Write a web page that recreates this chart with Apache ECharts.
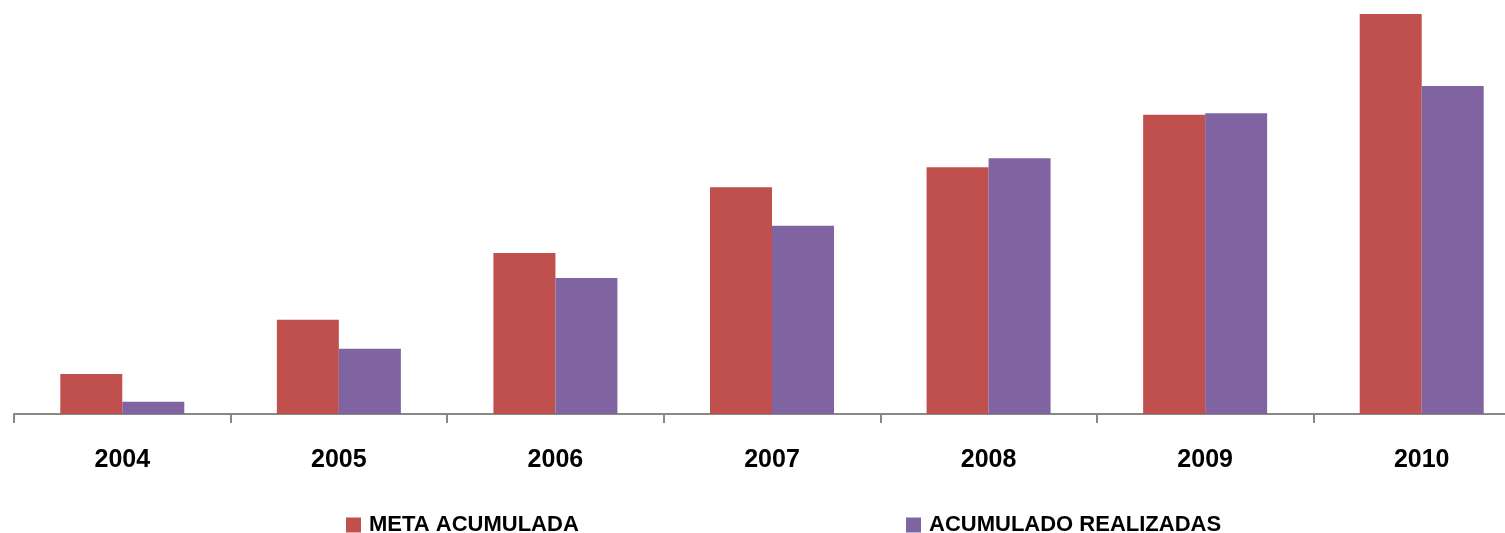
<!DOCTYPE html>
<html>
<head>
<meta charset="utf-8">
<script src="https://cdn.jsdelivr.net/npm/echarts@6/dist/echarts.min.js"></script>
<style>
    html, body { margin: 0; padding: 0; background: #fff; overflow: hidden; }
    #chart { width: 1530px; height: 533px; }
</style>
</head>
<body>
<div id="chart"></div>
<script>
var years = ['2004', '2005', '2006', '2007', '2008', '2009', '2010'];
var metaAcumulada = [40, 94.3, 161, 226.7, 246.7, 299.3, 400.7];
var acumuladoRealizadas = [12.3, 65.3, 136, 188.3, 255.7, 300.7, 328];

// the plot runs past the right edge of the window, like the original
var chart = echarts.init(document.getElementById('chart'));

var font = '"Liberation Sans", Arial, sans-serif';

var option = {
    backgroundColor: '#ffffff',
    animation: false,
    grid: {
        left: 14,
        right: 0,
        top: 14,
        bottom: 119
    },
    legend: [
        {
            data: ['META ACUMULADA'],
            left: 341,
            top: 509,
            icon: 'rect',
            itemWidth: 15,
            itemHeight: 15,
            textStyle: {
                fontFamily: font,
                fontWeight: 'bold',
                fontSize: 22,
                color: '#000',
                padding: [0, 0, 0, 3]
            }
        },
        {
            data: ['ACUMULADO REALIZADAS'],
            left: 901,
            top: 509,
            icon: 'rect',
            itemWidth: 15,
            itemHeight: 15,
            textStyle: {
                fontFamily: font,
                fontWeight: 'bold',
                fontSize: 22,
                color: '#000',
                padding: [0, 0, 0, 3]
            }
        }
    ],
    xAxis: {
        type: 'category',
        data: years,
        axisLine: {
            lineStyle: { color: '#888888', width: 2 }
        },
        axisTick: {
            show: true,
            length: 9,
            lineStyle: { color: '#888888', width: 2 }
        },
        axisLabel: {
            margin: 34,
            fontFamily: font,
            fontWeight: 'bold',
            fontSize: 25,
            color: '#000'
        }
    },
    yAxis: {
        type: 'value',
        min: 0,
        max: 400,
        show: false,
        splitLine: { show: false }
    },
    series: [
        {
            name: 'META ACUMULADA',
            type: 'bar',
            data: metaAcumulada,
            barWidth: 62,
            barGap: 0,
            itemStyle: { color: '#C0504D' }
        },
        {
            name: 'ACUMULADO REALIZADAS',
            type: 'bar',
            data: acumuladoRealizadas,
            barWidth: 62,
            barGap: 0,
            itemStyle: { color: '#8064A2' }
        }
    ]
};

chart.setOption(option);

window.onresize = chart.resize;
</script>
</body>
</html>
